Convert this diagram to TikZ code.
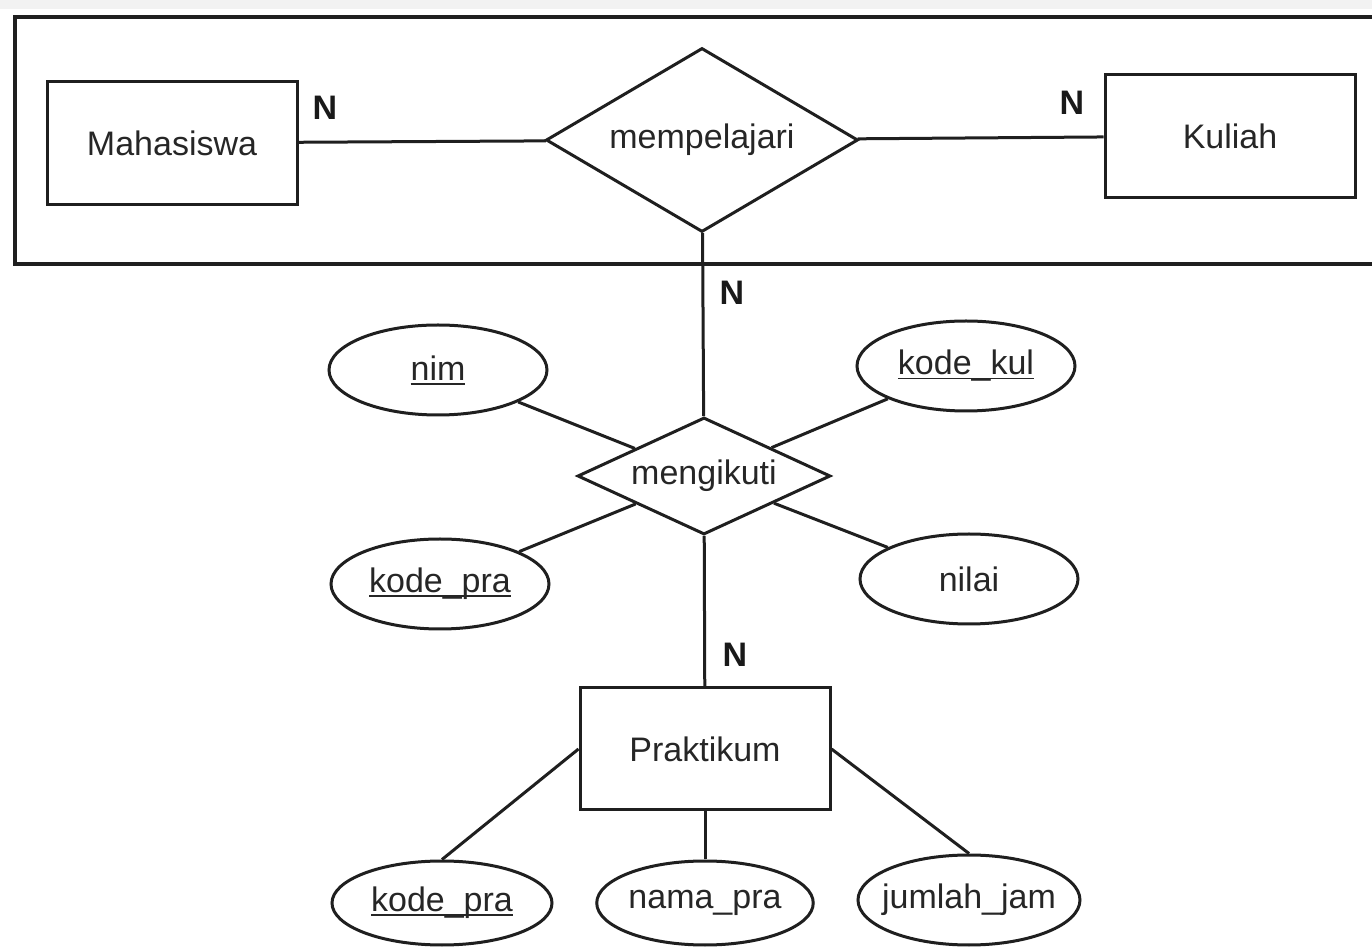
\documentclass[tikz,border=0pt]{standalone}
\usepackage{fontspec}
\setmainfont{Liberation Sans}
\usetikzlibrary{shapes.geometric}
% key attribute: text with a rule set just below its baseline
\newcommand\keyattr[1]{\setbox0\hbox{#1}\rlap{\rule[-2.2pt]{\wd0}{0.9pt}}\box0}
\begin{document}
\begin{tikzpicture}[x=0.5pt,y=-0.5pt,
  ink/.style={draw=black!88, line width=1.5pt},
  lbl/.style={font=\fontsize{17}{20}\selectfont, text=black!85},
  entity/.style={ink, lbl, rectangle, minimum width=125pt, minimum height=61.5pt, inner sep=0pt},
  relation/.style={ink, lbl, diamond, inner sep=0pt},
  attr/.style={ink, lbl, ellipse, minimum width=109pt, minimum height=45pt, inner sep=0pt},
  card/.style={font=\bfseries\fontsize{17}{20}\selectfont, text=black!90, inner sep=0pt},
  link/.style={ink}
]
\fill[gray!10] (0,0) rectangle (1372,9);
\useasboundingbox (0,0) rectangle (1372,951);

% aggregation frame around the mempelajari relationship
\draw[ink, line width=2pt] (1372,17) -- (15,17) -- (15,264) -- (1372,264);

% entities and relationships
\node[entity] (mhs) at (172,143) {Mahasiswa};
\node[relation, aspect=1.7, minimum width=156pt, minimum height=92pt] (mp) at (702,140) {mempelajari};
\node[entity] (kul) at (1230,136) {Kuliah};
\node[relation, aspect=2.16, minimum width=126.5pt, minimum height=58.5pt] (mk) at (704,476) {mengikuti};
\node[entity, minimum height=61pt] (prak) at (705,749) {Praktikum};

% attributes
\node[attr] (nim) at (438,370) {\keyattr{nim}};
\node[attr] (kk) at (966,366) {\keyattr{kode\_kul}};
\node[attr] (kp1) at (440,584) {\keyattr{kode\_pra}};
\node[attr] (nil) at (969,579) {nilai};
\node[attr, minimum width=110pt, minimum height=42pt] (kp2) at (442,903) {\keyattr{kode\_pra}};
\node[attr, minimum width=108pt, minimum height=42pt] (np) at (705,903) {nama\_pra};
\node[attr, minimum width=111pt, minimum height=45pt] (jj) at (969,900) {\makebox[0pt]{jumlah\_jam}};

% cardinalities
\node[card] (c1) at (325,108) {N};
\node[card] (c2) at (1072,103) {N};
\node[card] (c3) at (732,293) {N};
\node[card] (c4) at (735,655) {N};

% connectors
\draw[link] (mhs) -- (mp);
\draw[link] (mp) -- (kul);
\draw[link] (mp) -- (mk);
\draw[link] (mk) -- (prak);
\draw[link] (nim) -- (mk);
\draw[link] (kk) -- (mk);
\draw[link] (kp1) -- (mk);
\draw[link] (nil) -- (mk);
\draw[link] (prak.west) -- (kp2.north);
\draw[link] (prak) -- (np);
\draw[link] (prak.east) -- (jj.north);
\end{tikzpicture}
\end{document}
